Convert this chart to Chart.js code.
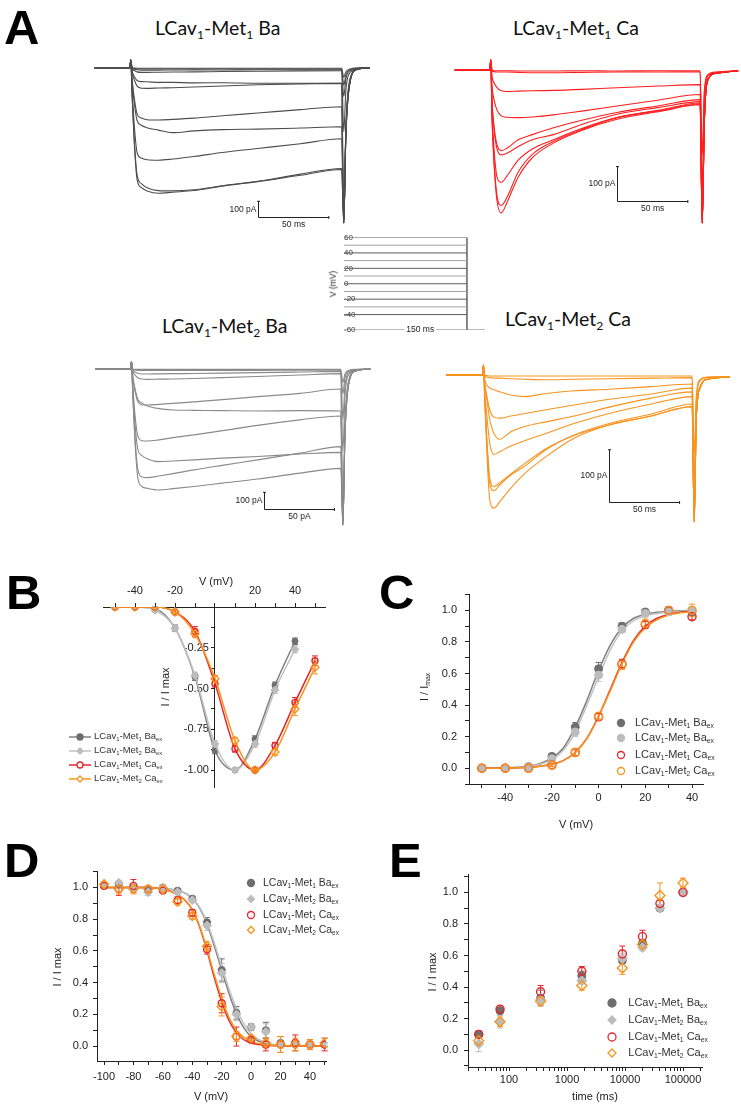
<!DOCTYPE html>
<html lang="en">
<head>
<meta charset="UTF-8">
<title>LCav1 Met1 / Met2 currents</title>
<script src="https://cdn.jsdelivr.net/npm/chart.js@4"></script>
<style>
  body { margin: 0; background: #fff; }
  #fig { position: relative; width: 741px; height: 1106px; overflow: hidden; background: #fff;
         font-family: "Liberation Sans", Arial, sans-serif; color: #222; }
  #fig canvas { position: absolute; }
  .t { position: absolute; white-space: nowrap; line-height: 1; }
  .letter { font: bold 49px "Liberation Sans", Arial, sans-serif; color: #000; }
  .ttl { font-family: Lato, "Open Sans", sans-serif; font-size: 19.5px; color: #111; }
  .ttl sub, .ax sub, .legt sub { font-size: 62%; vertical-align: -0.3em; line-height: 1; }
  .ax { font-size: 11px; color: #222; }
  .rot { transform: translate(-50%, -50%) rotate(-90deg); }
  .ctr { transform: translate(-50%, -50%); }
  .legt { position: absolute; white-space: nowrap; line-height: 1; color: #333; transform: translateY(-50%); }
  .legm { position: absolute; }
</style>
</head>
<body>
<div id="fig">
  <div class="t letter" style="left:4px;top:-1px">A</div>
  <div class="t letter" style="left:6px;top:564px">B</div>
  <div class="t letter" style="left:379px;top:564px">C</div>
  <div class="t letter" style="left:4px;top:832px">D</div>
  <div class="t letter" style="left:389px;top:832px">E</div>

  <div class="t ttl" style="left:155px;top:18px">LCav<sub>1</sub>-Met<sub>1</sub> Ba</div>
  <div class="t ttl" style="left:513px;top:18px">LCav<sub>1</sub>-Met<sub>1</sub> Ca</div>
  <div class="t ttl" style="left:162px;top:316px">LCav<sub>1</sub>-Met<sub>2</sub> Ba</div>
  <div class="t ttl" style="left:505px;top:309px">LCav<sub>1</sub>-Met<sub>2</sub> Ca</div>

  <canvas id="ba1" width="285" height="175" style="left:90px;top:55px"></canvas>
  <canvas id="ca1" width="296" height="175" style="left:445px;top:55px"></canvas>
  <canvas id="ba2" width="285" height="175" style="left:90px;top:355px"></canvas>
  <canvas id="ca2" width="300" height="175" style="left:440px;top:360px"></canvas>
  <canvas id="proto" width="160" height="112" style="left:335px;top:228px"></canvas>
  <div class="t ax rot" style="left:333px;top:284px;font-size:8.5px">V (mV)</div>

  <canvas id="chB" width="240" height="240" style="left:95px;top:560px"></canvas>
  <canvas id="chC" width="331" height="250" style="left:410px;top:580px"></canvas>
  <canvas id="chD" width="300" height="246" style="left:40px;top:860px"></canvas>
  <canvas id="chE" width="331" height="244" style="left:410px;top:862px"></canvas>

  <div class="t ax ctr" style="left:216px;top:581px;font-size:11px">V (mV)</div>
  <div class="t ax rot" style="left:165px;top:687px">I / I max</div>
  <div class="t ax ctr" style="left:576px;top:824px">V (mV)</div>
  <div class="t ax rot" style="left:425px;top:687px">I / I<sub>max</sub></div>
  <div class="t ax ctr" style="left:211px;top:1096px">V (mV)</div>
  <div class="t ax rot" style="left:57px;top:967px">I / I max</div>
  <div class="t ax ctr" style="left:595px;top:1096px">time (ms)</div>
  <div class="t ax rot" style="left:432px;top:972px">I / I max</div>
</div>

<script>
  Chart.defaults.font.family = '"Liberation Sans", Arial, sans-serif';
  Chart.defaults.color = '#222';

  const DARK = '#6e6e6e', LIGHT = '#bcbcbc', RED = '#e3262b', ORANGE = '#f7941e';
  const DARK_LINE = '#808080', LIGHT_LINE = '#c2c2c2';

  // ---- panel A: current traces (time in ms, current in pA) ----
  const ba1Times = [-25, 0, 0.5, 1.5, 3, 5, 8, 12, 20, 30, 45, 65, 90, 120, 149, 150.5, 152, 155, 160, 169];
  const ca1Times = [-25, 0, 0.5, 1.5, 3, 5, 8, 12, 20, 30, 45, 65, 90, 120, 149, 150.5, 152, 155, 160, 176];
  const ba2Times = [-25, 0, 0.5, 1.5, 3, 5, 8, 12, 20, 30, 45, 65, 90, 120, 149, 150.5, 152, 155, 160, 170];
  const ca2Times = [-26, 0, 0.5, 1.5, 3, 5, 8, 12, 20, 30, 45, 65, 90, 120, 149, 150.5, 152, 155, 160, 176];

  const ba1Traces = [
    [0,0,50,-1,-2,-3,-3,-3,-3,-3,-3,-3,-3,-3,-3,-60,-25,-8,-2,0],
    [0,0,50,-3,-6,-8,-8,-8,-8,-8,-9,-8,-8,-8,-8,-110,-45,-12,-3,0],
    [0,0,50,-4,-9,-13,-15,-15,-15,-14,-14,-14,-13,-13,-13,-180,-70,-18,-4,0],
    [0,0,50,-8,-18,-26,-29,-29,-28,-27,-26,-24,-22,-20,-19,-400,-140,-30,-6,0],
    [0,0,50,-22,-55,-80,-87,-88,-92,-92,-95,-94,-97,-97,-98,-970,-380,-70,-10,0],
    [0,0,50,-30,-75,-115,-128,-129,-127,-125,-121,-114,-107,-101,-98,-970,-380,-70,-10,0],
    [0,0,50,-75,-190,-290,-315,-325,-327,-323,-315,-300,-283,-262,-244,-970,-400,-80,-10,0],
    [0,0,50,-85,-220,-330,-360,-375,-390,-406,-395,-387,-384,-377,-369,-970,-400,-80,-10,0],
    [0,0,50,-140,-360,-530,-565,-575,-578,-571,-555,-530,-505,-475,-444,-970,-420,-85,-10,0],
    [0,0,50,-180,-470,-700,-750,-770,-785,-778,-768,-740,-710,-665,-630,-970,-420,-85,-10,0],
    [0,0,50,-170,-450,-670,-725,-750,-768,-770,-763,-738,-712,-672,-636,-970,-420,-85,-10,0]
  ];
  const ca1Traces = [
    [0,0,30,-1,-2,-2,-2,-2,-3,-3,-3,-2,-3,-2,-2,-250,-60,-12,-6,-2],
    [0,0,30,-3,-5,-6,-6,-6,-7,-8,-8,-7,-6,-6,-5,-350,-80,-15,-8,-2],
    [0,0,30,-20,-38,-52,-61,-63,-62,-61,-60,-57,-52,-47,-43,-450,-150,-25,-10,-2],
    [0,0,30,-50,-90,-118,-135,-139,-140,-138,-132,-121,-106,-88,-72,-450,-150,-25,-10,-2],
    [0,0,30,-95,-170,-220,-237,-230,-205,-190,-170,-148,-125,-105,-87,-450,-150,-25,-10,-2],
    [0,0,30,-100,-180,-232,-250,-245,-225,-205,-190,-160,-130,-110,-93,-450,-150,-25,-10,-2],
    [0,0,30,-130,-240,-315,-330,-312,-265,-232,-205,-172,-140,-118,-97,-450,-150,-25,-10,-2],
    [0,0,30,-150,-285,-385,-420,-390,-315,-258,-215,-178,-145,-122,-102,-450,-150,-25,-10,-2],
    [0,0,30,-145,-275,-370,-398,-375,-300,-248,-210,-175,-140,-120,-100,-450,-150,-25,-10,-2]
  ];
  const ba2Traces = [
    [0,0,44,-1,-2,-2,-2,-2,-2,-2,-2,-2,-2,-2,-2,-80,-30,-8,-2,0],
    [0,0,44,-3,-6,-8,-8,-8,-8,-8,-8,-8,-8,-7,-7,-150,-50,-12,-3,0],
    [0,0,44,-8,-18,-26,-30,-30,-29,-28,-27,-25,-22,-18,-14,-300,-100,-20,-5,0],
    [0,0,44,-15,-35,-52,-60,-62,-61,-60,-57,-52,-45,-36,-28,-500,-160,-30,-6,0],
    [0,0,44,-50,-130,-195,-214,-216,-212,-206,-197,-184,-166,-146,-120,-936,-350,-60,-10,0],
    [0,0,44,-45,-115,-180,-205,-222,-238,-246,-248,-250,-252,-250,-252,-936,-350,-60,-10,0],
    [0,0,44,-100,-270,-400,-430,-432,-425,-412,-395,-370,-338,-305,-282,-936,-380,-70,-10,0],
    [0,0,44,-120,-320,-480,-520,-540,-556,-552,-545,-535,-525,-510,-500,-936,-380,-70,-10,0],
    [0,0,44,-150,-400,-600,-648,-652,-642,-628,-605,-578,-545,-505,-466,-936,-400,-75,-10,0],
    [0,0,44,-160,-430,-650,-705,-716,-726,-718,-705,-685,-660,-625,-596,-936,-400,-75,-10,0]
  ];
  const ca2Traces = [
    [0,0,19,-1,-1,-2,-2,-2,-2,-2,-2,-2,-2,-2,-2,-150,-40,-8,-4,-3],
    [0,0,19,-2,-4,-5,-6,-6,-7,-8,-9,-8,-7,-6,-5,-200,-50,-10,-5,-3],
    [0,0,19,-9,-19,-25,-28,-32,-38,-41,-35,-30,-27,-22,-17,-279,-80,-20,-8,-4],
    [0,0,19,-16,-41,-66,-80,-82,-78,-73,-66,-57,-46,-36,-25,-279,-80,-22,-8,-4],
    [0,0,19,-19,-47,-85,-111,-122,-108,-98,-89,-78,-61,-44,-32,-279,-80,-22,-8,-4],
    [0,0,19,-32,-79,-130,-151,-146,-135,-125,-111,-92,-73,-55,-41,-279,-80,-22,-8,-4],
    [0,0,19,-47,-130,-206,-220,-209,-190,-173,-142,-114,-92,-74,-55,-279,-80,-22,-8,-4],
    [0,0,19,-45,-125,-195,-212,-205,-188,-168,-140,-115,-95,-78,-60,-279,-80,-22,-8,-4],
    [0,0,19,-54,-149,-237,-253,-241,-215,-187,-155,-120,-95,-78,-60,-279,-80,-22,-8,-4]
  ];

  // scale bars: start time, current level, 50 ms, 100 pA
  const ba1Bar = { t: 90, i: -935, dt: 50, di: 100, tLabel: '50 ms', iLabel: '100 pA' };
  const ca1Bar = { t: 90.3, i: -384, dt: 50, di: 100, tLabel: '50 ms', iLabel: '100 pA' };
  const ba2Bar = { t: 94.5, i: -840, dt: 50, di: 100, tLabel: '50 pA', iLabel: '100 pA' };
  const ca2Bar = { t: 90.1, i: -242, dt: 50, di: 100, tLabel: '50 ms', iLabel: '100 pA' };

  // voltage protocol
  const protoLevels = [60, 50, 40, 30, 20, 10, 0, -10, -20, -30, -40];
  const protoHold = -60, protoStep = 150, protoEnd = 172, protoLabelAt = 93;

  // ---- panel B: I-V ----
  const bV = [-50, -40, -30, -20, -10, 0, 10, 20, 30, 40, 50];
  const bMet1Ba = [0, 0, -0.01, -0.13, -0.43, -0.88, -1.0, -0.81, -0.48, -0.21];
  const bMet2Ba = [0, 0, -0.02, -0.13, -0.42, -0.84, -1.0, -0.84, -0.51, -0.26];
  const bMet1Ca = [0, 0, 0, -0.03, -0.15, -0.47, -0.87, -1.0, -0.85, -0.585, -0.33];
  const bMet2Ca = [0, 0, 0, -0.03, -0.165, -0.44, -0.82, -1.0, -0.89, -0.625, -0.37];
  const bErrMet1Ba = [0, 0, 0.01, 0.02, 0.02, 0.02, 0.01, 0.02, 0.02, 0.02];
  const bErrMet2Ba = [0, 0, 0.01, 0.02, 0.02, 0.02, 0.01, 0.02, 0.02, 0.02];
  const bErrMet1Ca = [0, 0, 0, 0.01, 0.03, 0.02, 0.02, 0.01, 0.02, 0.03, 0.03];
  const bErrMet2Ca = [0, 0, 0, 0.01, 0.02, 0.02, 0.02, 0.01, 0.02, 0.04, 0.04];

  // ---- panel C: activation ----
  const cV = [-50, -40, -30, -20, -10, 0, 10, 20, 30, 40];
  const cMet1Ba = [0, 0, 0.01, 0.075, 0.26, 0.63, 0.9, 0.99, 1.0, 0.99];
  const cMet2Ba = [0, 0, 0.01, 0.06, 0.23, 0.59, 0.88, 0.98, 0.99, 1.0];
  const cMet1Ca = [0, 0, 0, 0.02, 0.1, 0.325, 0.66, 0.91, 1.0, 0.96];
  const cMet2Ca = [0, 0, 0, 0.02, 0.1, 0.33, 0.655, 0.915, 1.0, 1.0];
  const cErrMet1Ba = [0, 0, 0.01, 0.01, 0.03, 0.04, 0.02, 0.01, 0.02, 0.02];
  const cErrMet2Ba = [0, 0, 0.01, 0.01, 0.03, 0.04, 0.02, 0.01, 0.02, 0.02];
  const cErrMet1Ca = [0, 0, 0, 0.01, 0.02, 0.02, 0.03, 0.02, 0.02, 0.02];
  const cErrMet2Ca = [0, 0, 0, 0.01, 0.02, 0.02, 0.03, 0.03, 0.02, 0.04];
  const cFitV = [-50, -45, -40, -35, -30, -25, -20, -15, -10, -5, 0, 5, 10, 15, 20, 25, 30, 35, 40];
  const cFitMet1Ba = [0, 0.001, 0.003, 0.006, 0.013, 0.03, 0.065, 0.13, 0.26, 0.43, 0.62, 0.78, 0.89, 0.95, 0.975, 0.988, 0.994, 0.997, 0.998];
  const cFitMet2Ba = [0, 0.001, 0.002, 0.005, 0.011, 0.025, 0.055, 0.115, 0.23, 0.4, 0.58, 0.75, 0.87, 0.935, 0.965, 0.98, 0.99, 0.994, 0.996];
  const cFitMet1Ca = [0, 0, 0.001, 0.003, 0.006, 0.012, 0.025, 0.05, 0.1, 0.19, 0.33, 0.5, 0.67, 0.81, 0.9, 0.95, 0.975, 0.988, 0.994];
  const cFitMet2Ca = [0, 0, 0.001, 0.003, 0.006, 0.012, 0.025, 0.05, 0.1, 0.19, 0.33, 0.49, 0.66, 0.8, 0.89, 0.94, 0.97, 0.985, 0.992];

  // ---- panel D: steady-state inactivation ----
  const dV = [-100, -90, -80, -70, -60, -50, -40, -30, -20, -10, 0, 10, 20, 30, 40, 50];
  const dMet1Ba = [1.01, 1.02, 1.0, 0.98, 1.0, 0.98, 0.93, 0.78, 0.48, 0.21, 0.12, 0.1, 0.02, 0.01, 0.01, 0.01];
  const dMet2Ba = [1.02, 1.03, 1.0, 0.97, 1.0, 0.97, 0.92, 0.76, 0.46, 0.2, 0.12, 0.09, 0.01, 0.01, 0.01, 0.01];
  const dMet1Ca = [1.01, 0.99, 1.01, 0.99, 0.98, 0.92, 0.84, 0.61, 0.27, 0.06, 0.04, 0.01, 0.01, 0.02, 0.01, 0.01];
  const dMet2Ca = [1.02, 0.99, 0.99, 0.99, 0.99, 0.91, 0.82, 0.63, 0.25, 0.06, 0.05, 0.02, 0.01, 0.01, 0.01, 0.02];
  const dErrMet1Ba = [0.01, 0.01, 0.01, 0.01, 0.01, 0.01, 0.01, 0.03, 0.07, 0.04, 0.02, 0.05, 0.01, 0.01, 0.01, 0.01];
  const dErrMet2Ba = [0.01, 0.01, 0.01, 0.02, 0.01, 0.01, 0.01, 0.03, 0.06, 0.04, 0.02, 0.05, 0.01, 0.01, 0.01, 0.01];
  const dErrMet1Ca = [0.01, 0.04, 0.04, 0.01, 0.01, 0.02, 0.02, 0.03, 0.06, 0.06, 0.01, 0.04, 0.05, 0.05, 0.03, 0.04];
  const dErrMet2Ca = [0.01, 0.03, 0.03, 0.01, 0.01, 0.02, 0.02, 0.03, 0.06, 0.03, 0.01, 0.03, 0.05, 0.04, 0.03, 0.03];
  const dFitV = [-100, -90, -80, -70, -60, -50, -45, -40, -35, -30, -25, -20, -15, -10, -5, 0, 10, 20, 30, 40, 50];
  const dFitMet1Ba = [1, 1, 1, 1, 0.995, 0.98, 0.965, 0.93, 0.87, 0.77, 0.63, 0.48, 0.33, 0.205, 0.115, 0.06, 0.015, 0.004, 0.001, 0, 0];
  const dFitMet2Ba = [1, 1, 1, 1, 0.995, 0.98, 0.965, 0.93, 0.875, 0.78, 0.65, 0.5, 0.36, 0.235, 0.14, 0.078, 0.022, 0.006, 0.002, 0.001, 0];
  const dFitMet1Ca = [1, 1, 1, 1, 0.99, 0.955, 0.92, 0.86, 0.75, 0.6, 0.43, 0.28, 0.16, 0.085, 0.04, 0.02, 0.005, 0.001, 0, 0, 0];
  const dFitMet2Ca = [1, 1, 1, 1, 0.99, 0.955, 0.92, 0.86, 0.755, 0.61, 0.45, 0.3, 0.18, 0.1, 0.055, 0.03, 0.009, 0.003, 0.001, 0, 0];

  // ---- panel E: recovery from inactivation ----
  const eT = [30, 70, 350, 1800, 9000, 20000, 40000, 100000];
  const eMet1Ba = [0.1, 0.25, 0.33, 0.47, 0.57, 0.68, 0.9, 1.0];
  const eMet2Ba = [0.04, 0.18, 0.32, 0.44, 0.58, 0.65, 0.9, 1.0];
  const eMet1Ca = [0.1, 0.26, 0.37, 0.5, 0.61, 0.72, 0.93, 1.0];
  const eMet2Ca = [0.06, 0.18, 0.31, 0.41, 0.52, 0.67, 0.98, 1.06];
  const eErrMet1Ba = [0.02, 0.02, 0.05, 0.03, 0.02, 0.02, 0.01, 0];
  const eErrMet2Ba = [0.05, 0.04, 0.02, 0.02, 0.03, 0.02, 0.01, 0];
  const eErrMet1Ca = [0.02, 0.02, 0.04, 0.03, 0.05, 0.04, 0.02, 0.01];
  const eErrMet2Ca = [0.02, 0.03, 0.02, 0.03, 0.04, 0.03, 0.08, 0.03];
  const eMajor = [100, 1000, 10000, 100000];

  // ---------- helpers ----------
  const common = {
    animation: false, responsive: false, events: [],
    plugins: { legend: { display: false }, tooltip: { enabled: false } }
  };

  function scaleBarPlugin(bar) {
    return {
      id: 'scaleBar',
      afterDraw(chart) {
        const { ctx, scales: { x, y } } = chart;
        const x0 = Math.round(x.getPixelForValue(bar.t)) + 0.5;
        const x1 = x.getPixelForValue(bar.t + bar.dt);
        const y0 = Math.round(y.getPixelForValue(bar.i)) + 0.5;
        const y1 = y.getPixelForValue(bar.i + bar.di);
        ctx.save();
        ctx.strokeStyle = '#222';
        ctx.lineWidth = 1;
        ctx.beginPath();
        ctx.moveTo(x0, y1); ctx.lineTo(x0, y0); ctx.lineTo(x1, y0);
        ctx.moveTo(x0 - 1.5, y1); ctx.lineTo(x0 + 1.5, y1);
        ctx.moveTo(x1, y0 - 1.5); ctx.lineTo(x1, y0 + 1.5);
        ctx.stroke();
        ctx.fillStyle = '#222';
        ctx.font = '8.5px "Liberation Sans", Arial, sans-serif';
        ctx.textAlign = 'right'; ctx.textBaseline = 'middle';
        ctx.fillText(bar.iLabel, x0 - 2, (y0 + y1) / 2);
        ctx.textAlign = 'center'; ctx.textBaseline = 'top';
        ctx.fillText(bar.tLabel, (x0 + x1) / 2, y0 + 3);
        ctx.restore();
      }
    };
  }

  function traceChart(id, times, traces, color, xr, yr, bar) {
    new Chart(document.getElementById(id), {
      type: 'scatter',
      data: {
        datasets: traces.map(tr => ({
          data: tr.map((v, i) => ({ x: times[i], y: v })),
          showLine: true, borderColor: color, borderWidth: 1.1, pointRadius: 0,
          cubicInterpolationMode: 'monotone'
        }))
      },
      options: Object.assign({}, common, {
        layout: { padding: 0 },
        scales: {
          x: { type: 'linear', display: false, min: xr[0], max: xr[1] },
          y: { type: 'linear', display: false, min: yr[0], max: yr[1] }
        }
      }),
      plugins: [scaleBarPlugin(bar)]
    });
  }

  traceChart('ba1', ba1Times, ba1Traces, '#4d4d4d', [-28.17, 172.5], [-1014.4, 79.4], ba1Bar);
  traceChart('ca1', ca1Times, ca1Traces, '#ff1e1e', [-31.9, 178.0], [-470.4, 44.1], ca1Bar);
  traceChart('ba2', ba2Times, ba2Traces, '#8a8a8a', [-28.87, 173.3], [-966, 84], ba2Bar);
  traceChart('ca2', ca2Times, ca2Traces, '#f8931f', [-30.4, 183.1], [-304, 28.5], ca2Bar);

  // voltage protocol
  const protoLabel = {
    id: 'protoLabel',
    afterDraw(chart) {
      const { ctx, scales: { x, y } } = chart;
      const px = x.getPixelForValue(protoLabelAt), py = y.getPixelForValue(protoHold);
      ctx.save();
      ctx.font = '8.5px "Liberation Sans", Arial, sans-serif';
      const w = ctx.measureText('150 ms').width;
      ctx.fillStyle = '#fff';
      ctx.fillRect(px - w / 2 - 2, py - 5, w + 4, 10);
      ctx.fillStyle = '#222';
      ctx.textAlign = 'center'; ctx.textBaseline = 'middle';
      ctx.fillText('150 ms', px, py);
      ctx.restore();
    }
  };
  new Chart(document.getElementById('proto'), {
    type: 'scatter',
    data: {
      datasets: protoLevels.map((v, i) => ({
        data: [{ x: 0, y: v }, { x: protoStep, y: v }],
        showLine: true, borderColor: i % 2 ? '#a0a0a0' : '#5c5c5c', borderWidth: 1, pointRadius: 0
      })).concat([
        { data: [{ x: protoStep, y: protoLevels[0] }, { x: protoStep, y: protoHold }],
          showLine: true, borderColor: '#777', borderWidth: 1, pointRadius: 0 },
        { data: [{ x: 0, y: protoHold }, { x: protoEnd, y: protoHold }],
          showLine: true, borderColor: '#777', borderWidth: 1, pointRadius: 0 }
      ])
    },
    options: Object.assign({}, common, {
      layout: { padding: { top: 9.5, bottom: 10, right: 10, left: 0 } },
      scales: {
        x: { type: 'linear', display: false, min: -1.2, max: protoEnd },
        y: {
          type: 'linear', min: -60, max: 60, z: 1,
          afterFit(s) { s.width = 8; },
          ticks: { stepSize: 10, mirror: true, padding: 1, color: '#333', font: { size: 8 }, autoSkip: false,
                   showLabelBackdrop: true, backdropColor: '#fff', backdropPadding: 1,
                   callback: v => v % 20 === 0 ? v : '' },
          grid: { drawOnChartArea: false, drawTicks: false, tickLength: 0, color: '#666' },
          border: { color: '#555' }
        }
      }
    }),
    plugins: [protoLabel]
  });

  // error bars drawn from each dataset's errors array
  const errorBars = {
    id: 'errorBars',
    beforeDatasetsDraw(chart) {
      const ctx = chart.ctx, ys = chart.scales.y;
      chart.data.datasets.forEach((ds, i) => {
        if (!ds.errors) return;
        const meta = chart.getDatasetMeta(i);
        ctx.save();
        ctx.strokeStyle = ds.pointBorderColor;
        ctx.lineWidth = 1;
        meta.data.forEach((pt, j) => {
          const e = ds.errors[j];
          if (!e) return;
          const v = ds.data[j].y;
          const y1 = ys.getPixelForValue(v + e), y2 = ys.getPixelForValue(v - e);
          ctx.beginPath();
          ctx.moveTo(pt.x, y1); ctx.lineTo(pt.x, y2);
          ctx.moveTo(pt.x - 3, y1); ctx.lineTo(pt.x + 3, y1);
          ctx.moveTo(pt.x - 3, y2); ctx.lineTo(pt.x + 3, y2);
          ctx.stroke();
        });
        ctx.restore();
      });
    }
  };

  function pts(xs, ys, errs, color, style, filled, r, order) {
    return {
      data: ys.map((y, i) => ({ x: xs[i], y })),
      errors: errs,
      pointStyle: style, pointRadius: r, pointBorderWidth: filled ? 1 : 1.4,
      pointBorderColor: color,
      pointBackgroundColor: filled ? color : 'rgba(255,255,255,0)',
      borderColor: color, showLine: false, order
    };
  }
  function fit(xs, ys, color, order) {
    return {
      data: ys.map((y, i) => ({ x: xs[i], y })),
      showLine: true, borderColor: color, borderWidth: 1.5, pointRadius: 0,
      cubicInterpolationMode: 'monotone', order
    };
  }
  const tickFont = { size: 11 };
  const gridOpt = { drawOnChartArea: false, tickLength: 4, color: '#222' };
  const borderOpt = { color: '#222', width: 1 };
  const even = v => Math.round(v * 10) % 2 === 0 ? v.toFixed(1) : '';

  // B
  function withLine(ds, lineColor) {
    return Object.assign(ds, { showLine: true, borderColor: lineColor, borderWidth: 1.5, cubicInterpolationMode: 'monotone' });
  }
  new Chart(document.getElementById('chB'), {
    type: 'scatter',
    data: {
      datasets: [
        withLine(pts(bV, bMet1Ba, bErrMet1Ba, DARK, 'circle', true, 3, 8), DARK_LINE),
        withLine(pts(bV, bMet2Ba, bErrMet2Ba, LIGHT, 'rectRot', true, 4, 7), LIGHT_LINE),
        withLine(pts(bV, bMet1Ca, bErrMet1Ca, RED, 'circle', false, 3, 6), RED),
        withLine(pts(bV, bMet2Ca, bErrMet2Ca, ORANGE, 'rectRot', false, 4, 5), ORANGE)
      ]
    },
    options: Object.assign({}, common, {
      layout: { padding: { left: 8, right: 10, bottom: 13, top: 0 } },
      scales: {
        x: {
          type: 'linear', position: 'top', min: -56, max: 55,
          afterFit(s) { s.height = 47; },
          ticks: { stepSize: 10, includeBounds: false, padding: 5, font: tickFont, autoSkip: false, maxRotation: 0,
                   callback: v => (v % 20 === 0 && v !== 0) ? v : '' },
          grid: gridOpt, border: borderOpt
        },
        y: {
          type: 'linear', position: { x: 0 }, min: -1.104, max: 0,
          ticks: { stepSize: 0.125, includeBounds: false, font: tickFont, autoSkip: false,
                   callback: v => (Math.abs(v * 4 - Math.round(v * 4)) < 1e-6 && v !== 0) ? v.toFixed(2) + '  ' : '' },
          grid: { drawOnChartArea: false, tickLength: 3, color: '#222' }, border: borderOpt
        }
      }
    }),
    plugins: [errorBars]
  });

  // C
  new Chart(document.getElementById('chC'), {
    type: 'scatter',
    data: {
      datasets: [
        fit(cFitV, cFitMet1Ba, DARK_LINE, 12), fit(cFitV, cFitMet2Ba, LIGHT_LINE, 11),
        fit(cFitV, cFitMet1Ca, RED, 10), fit(cFitV, cFitMet2Ca, ORANGE, 9),
        pts(cV, cMet1Ba, cErrMet1Ba, DARK, 'circle', true, 4, 8),
        pts(cV, cMet2Ba, cErrMet2Ba, LIGHT, 'circle', true, 4, 7),
        pts(cV, cMet1Ca, cErrMet1Ca, RED, 'circle', false, 4, 6),
        pts(cV, cMet2Ca, cErrMet2Ca, ORANGE, 'circle', false, 4, 5)
      ]
    },
    options: Object.assign({}, common, {
      layout: { padding: { top: 12, right: 38, left: 0, bottom: 0 } },
      scales: {
        x: {
          type: 'linear', min: -55.5, max: 44.7, afterFit(s) { s.height = 46; },
          ticks: { stepSize: 10, includeBounds: false, padding: 3, font: tickFont, autoSkip: false, maxRotation: 0,
                   callback: v => Math.round(v) % 20 === 0 ? Math.round(v) : '' },
          grid: gridOpt, border: borderOpt
        },
        y: {
          type: 'linear', min: -0.1, max: 1.1, afterFit(s) { s.width = 59; },
          ticks: { stepSize: 0.1, includeBounds: false, padding: 8, font: tickFont, autoSkip: false, callback: even },
          grid: gridOpt, border: borderOpt
        }
      }
    }),
    plugins: [errorBars]
  });

  // D
  new Chart(document.getElementById('chD'), {
    type: 'scatter',
    data: {
      datasets: [
        fit(dFitV, dFitMet1Ba, DARK_LINE, 12), fit(dFitV, dFitMet2Ba, LIGHT_LINE, 11),
        fit(dFitV, dFitMet1Ca, RED, 10), fit(dFitV, dFitMet2Ca, ORANGE, 9),
        pts(dV, dMet1Ba, dErrMet1Ba, DARK, 'circle', true, 3.5, 8),
        pts(dV, dMet2Ba, dErrMet2Ba, LIGHT, 'rectRot', true, 4.5, 7),
        pts(dV, dMet1Ca, dErrMet1Ca, RED, 'circle', false, 3.5, 6),
        pts(dV, dMet2Ca, dErrMet2Ca, ORANGE, 'rectRot', false, 4.5, 5)
      ]
    },
    options: Object.assign({}, common, {
      layout: { padding: { top: 10, right: 14, left: 0, bottom: 0 } },
      scales: {
        x: {
          type: 'linear', min: -104.8, max: 50.9, afterFit(s) { s.height = 45; },
          ticks: { stepSize: 10, includeBounds: false, padding: 5, font: tickFont, autoSkip: false, maxRotation: 0,
                   callback: v => (v % 20 === 0 && v <= 40) ? v : '' },
          grid: gridOpt, border: borderOpt
        },
        y: {
          type: 'linear', min: -0.094, max: 1.1, afterFit(s) { s.width = 57; },
          ticks: { stepSize: 0.1, includeBounds: false, padding: 5, font: tickFont, autoSkip: false, callback: even },
          grid: gridOpt, border: borderOpt
        }
      }
    }),
    plugins: [errorBars]
  });

  // E
  new Chart(document.getElementById('chE'), {
    type: 'scatter',
    data: {
      datasets: [
        pts(eT, eMet1Ba, eErrMet1Ba, DARK, 'circle', true, 4, 8),
        pts(eT, eMet2Ba, eErrMet2Ba, LIGHT, 'rectRot', true, 5, 7),
        pts(eT, eMet1Ca, eErrMet1Ca, RED, 'circle', false, 4, 6),
        pts(eT, eMet2Ca, eErrMet2Ca, ORANGE, 'rectRot', false, 5, 5)
      ]
    },
    options: Object.assign({}, common, {
      layout: { padding: { top: 11, right: 39, left: 0, bottom: 0 } },
      scales: {
        x: {
          type: 'logarithmic', min: 19.6, max: 212600, afterFit(s) { s.height = 39; },
          afterBuildTicks(s) {
            const ticks = [];
            [10, 100, 1000, 10000, 100000].forEach(d => {
              for (let m = 1; m <= 9; m++) {
                const v = m * d;
                if (v >= s.min && v <= s.max) ticks.push({ value: v });
              }
            });
            s.ticks = ticks;
          },
          ticks: { padding: 2, font: tickFont, autoSkip: false, maxRotation: 0,
                   callback: v => eMajor.includes(v) ? String(v) : '' },
          grid: gridOpt, border: borderOpt
        },
        y: {
          type: 'linear', min: -0.107, max: 1.113, afterFit(s) { s.width = 58; },
          ticks: { stepSize: 0.1, includeBounds: false, padding: 6, font: tickFont, autoSkip: false, callback: even },
          grid: gridOpt, border: borderOpt
        }
      }
    }),
    plugins: [errorBars]
  });

  // ---- legends ----
  const legendNames = [
    'LCav<sub>1</sub>-Met<sub>1</sub> Ba<sub>ex</sub>',
    'LCav<sub>1</sub>-Met<sub>2</sub> Ba<sub>ex</sub>',
    'LCav<sub>1</sub>-Met<sub>1</sub> Ca<sub>ex</sub>',
    'LCav<sub>1</sub>-Met<sub>2</sub> Ca<sub>ex</sub>'
  ];
  const legendColors = [DARK, LIGHT, RED, ORANGE];
  const legendLines = [DARK_LINE, LIGHT_LINE, RED, ORANGE];
  const legendFilled = [true, true, false, false];

  function markerSvg(style, color, filled, r, lineColor) {
    const w = lineColor ? 22 : 12, h = 12, cx = w / 2, cy = 6;
    let s = `<svg width="${w}" height="${h}" style="display:block;overflow:visible">`;
    if (lineColor) s += `<line x1="0" y1="${cy}" x2="${w}" y2="${cy}" stroke="${lineColor}" stroke-width="1.5"/>`;
    const fill = filled ? color : '#fff';
    if (style === 'circle') {
      s += `<circle cx="${cx}" cy="${cy}" r="${r}" fill="${fill}" stroke="${color}" stroke-width="1.3"/>`;
    } else {
      s += `<polygon points="${cx},${cy - r} ${cx + r},${cy} ${cx},${cy + r} ${cx - r},${cy}" fill="${fill}" stroke="${color}" stroke-width="1.3"/>`;
    }
    return s + '</svg>';
  }

  function legend(mx, tx, rows, fontSize, styles, r, withLines) {
    const fig = document.getElementById('fig');
    rows.forEach((y, i) => {
      const w = withLines ? 22 : 12;
      const m = document.createElement('div');
      m.className = 'legm';
      m.style.left = (mx - w / 2) + 'px';
      m.style.top = (y - 6) + 'px';
      m.innerHTML = markerSvg(styles[i], legendColors[i], legendFilled[i], r, withLines ? legendLines[i] : null);
      fig.appendChild(m);
      const t = document.createElement('div');
      t.className = 'legt';
      t.style.left = tx + 'px';
      t.style.top = y + 'px';
      t.style.fontSize = fontSize + 'px';
      t.innerHTML = legendNames[i];
      fig.appendChild(t);
    });
  }
  legend(80, 94, [736.7, 750.7, 765, 779.3], 9.5, ['circle', 'rectRot', 'circle', 'rectRot'], 3, true);
  legend(620.7, 635, [722.7, 738.3, 755, 770.7], 11, ['circle', 'circle', 'circle', 'circle'], 3.5, false);
  legend(250.7, 263, [883.3, 899, 915, 930], 10.5, ['circle', 'rectRot', 'circle', 'rectRot'], 3.5, false);
  legend(611.7, 628.3, [1002.7, 1020, 1036.7, 1053.3], 11, ['circle', 'rectRot', 'circle', 'rectRot'], 4, false);
</script>
</body>
</html>
